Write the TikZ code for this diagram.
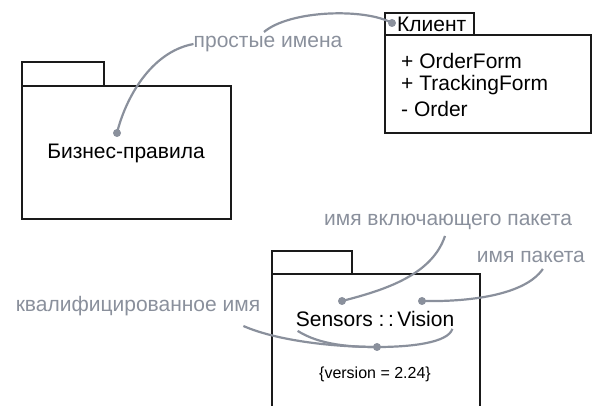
\documentclass[tikz,border=0pt]{standalone}
\usepackage{fontspec}
\setmainfont{Liberation Sans}
\usepackage{xcolor}
\usetikzlibrary{positioning}
\definecolor{NoteGray}{HTML}{8A909C}
\definecolor{PkgBlack}{HTML}{1A1A1A}

\begin{document}
\begin{tikzpicture}[x=1pt,y=-1pt,
    pkg/.style={draw=PkgBlack,line width=2.4pt},
    note/.style={text=NoteGray,font=\fontsize{21}{24}\selectfont,inner sep=0pt},
    pin/.style={draw=NoteGray,line width=2.2pt},
    pindot/.style={circle,fill=NoteGray,inner sep=0pt,minimum size=8pt},
    pkgtext/.style={font=\fontsize{21}{24}\selectfont,inner sep=0pt}]
  \useasboundingbox (0,0) rectangle (595,406);

  % packages
  \draw[pkg] (22,62) rectangle (104,86);
  \draw[pkg] (22,86) rectangle (231,219);
  \draw[pkg] (385,13) rectangle (474,35);
  \draw[pkg] (385,35) rectangle (591,133);
  \draw[pkg] (272,251) rectangle (352,274);
  \draw[pkg] (272,410) |- (480,274) -- (480,410);

  % names
  \node[pkgtext] (biz) at (126,153) {Бизнес-правила};
  \node[pkgtext,anchor=west] (client) at (397,24) {Клиент};
  \node[pkgtext,anchor=west] (op1) at (401,61) {+ OrderForm};
  \node[pkgtext,anchor=west] (op2) at (401,85) {+ TrackingForm};
  \node[pkgtext,anchor=west] (op3) at (401,109) {- Order};
  \node[pkgtext] (vision) at (375,319) {Sensors :\,:\,Vision};
  \node[font=\fontsize{16}{19}\selectfont] (ver) at (375,374) {\{version = 2.24\}};

  % notes
  \node[note] (simple) at (268,44) {простые имена};
  \node[note] (outer) at (448,222) {имя включающего пакета};
  \node[note,anchor=east] (pkgname) at (585,257) {имя пакета};
  \node[note] (qual) at (138,306) {квалифицированное имя};

  \node[pindot] (d1) at (117,133) {};
  \node[pindot] (d2) at (392,23) {};
  \node[pindot] (d3) at (342,301) {};
  \node[pindot] (d4) at (422,301) {};
  \node[pindot] (d5) at (377,347) {};

  \draw[pin] (simple.west) .. controls (150,52) and (125,100) .. (d1.center);
  \draw[pin] ([shift={(-4,-4)}]simple.north) .. controls (290,10) and (365,8) .. (d2.center);
  \draw[pin] ([shift={(-3,6)}]outer.south) .. controls (432,275) and (385,290) .. (d3.center);
  \draw[pin] ([shift={(12,6)}]pkgname.south) .. controls (525,295) and (470,302) .. (d4.center);
  \draw[pin] ([shift={(-17,10)}]qual.south east) .. controls (275,340) and (330,347) .. (d5.center);
  \draw[pin] ([shift={(2,4)}]vision.south west) .. controls (320,345) and (350,347) .. (d5.center);
  \draw[pin] ([shift={(-2,2)}]vision.south east) .. controls (448,343) and (410,347) .. (d5.center);
\end{tikzpicture}
\end{document}
